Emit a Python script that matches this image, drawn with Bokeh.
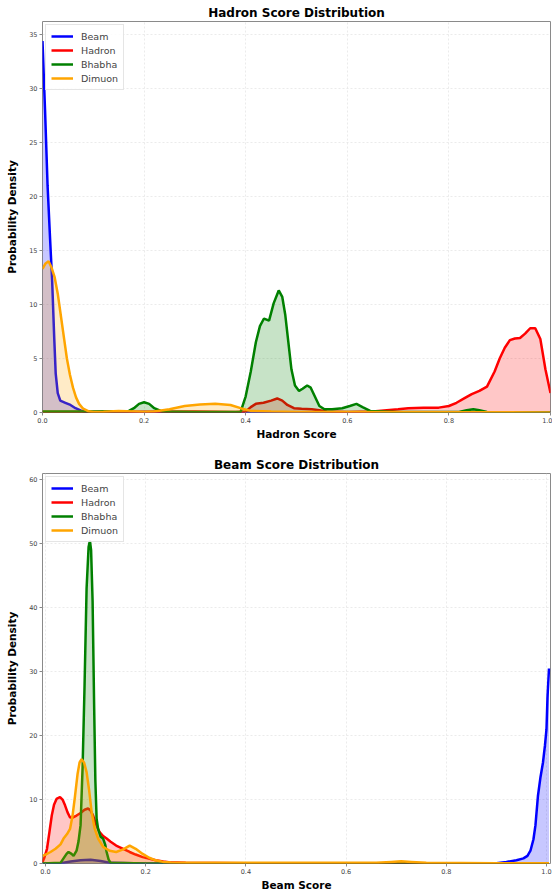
from bokeh.plotting import figure
from bokeh.layouts import column
from bokeh.models import Range1d, Legend, LegendItem, FixedTicker, NumeralTickFormatter
from bokeh.embed import file_html
from bokeh.resources import INLINE

# ---------------- data: Hadron Score panel ----------------
h_beam_x = [0.0, 0.005, 0.010, 0.015, 0.019, 0.023, 0.026, 0.030, 0.035, 0.045, 0.055, 0.065, 0.075, 0.085, 0.10, 0.3, 0.6, 1.0]
h_beam_y = [34.4, 28.0, 21.0, 16.0, 12.2, 7.0, 3.6, 1.8, 1.1, 0.9, 0.7, 0.4, 0.2, 0.05, 0.0, 0.0, 0.0, 0.0]

h_hadron_x = [0.0, 0.1, 0.3, 0.38, 0.40, 0.41, 0.42, 0.435, 0.45, 0.462, 0.472, 0.482, 0.495, 0.51, 0.53, 0.545, 0.56, 0.6,
              0.65, 0.7, 0.72, 0.75, 0.78, 0.8, 0.815, 0.83, 0.845, 0.86, 0.875, 0.89, 0.90, 0.91, 0.92, 0.93, 0.94, 0.95,
              0.96, 0.97, 0.98, 0.99, 1.0]
h_hadron_y = [0.05, 0.05, 0.1, 0.05, 0.1, 0.5, 0.8, 0.9, 1.1, 1.3, 1.1, 0.7, 0.4, 0.35, 0.3, 0.2, 0.1, 0.05,
              0.1, 0.3, 0.4, 0.45, 0.45, 0.6, 0.9, 1.3, 1.7, 2.0, 2.4, 3.8, 5.0, 6.0, 6.7, 6.85, 6.9, 7.3,
              7.8, 7.8, 6.8, 4.0, 1.8]

h_bhabha_x = [0.0, 0.1, 0.17, 0.18, 0.19, 0.2, 0.21, 0.22, 0.235, 0.3, 0.39, 0.40, 0.41, 0.42, 0.428, 0.436, 0.446,
              0.455, 0.465, 0.472, 0.478, 0.484, 0.49, 0.497, 0.505, 0.512, 0.521, 0.528, 0.535, 0.545, 0.555, 0.57,
              0.59, 0.605, 0.618, 0.63, 0.645, 0.7, 0.82, 0.835, 0.848, 0.86, 0.875, 1.0]
h_bhabha_y = [0.1, 0.1, 0.15, 0.4, 0.8, 0.95, 0.8, 0.4, 0.1, 0.05, 0.05, 1.5, 3.8, 6.5, 8.0, 8.7, 8.5,
              10.1, 11.3, 10.7, 9.0, 6.5, 4.0, 2.5, 2.0, 2.2, 2.5, 2.3, 1.6, 0.6, 0.3, 0.3,
              0.4, 0.6, 0.8, 0.5, 0.15, 0.05, 0.05, 0.2, 0.3, 0.2, 0.05, 0.0]

h_dimuon_x = [0.0, 0.006, 0.012, 0.018, 0.024, 0.030, 0.036, 0.042, 0.048, 0.054, 0.060, 0.066, 0.072, 0.080, 0.09,
              0.10, 0.12, 0.15, 0.18, 0.20, 0.22, 0.25, 0.28, 0.31, 0.34, 0.37, 0.39, 0.41, 0.45, 0.5, 0.6, 0.8, 1.0]
h_dimuon_y = [13.3, 13.8, 14.0, 13.4, 12.5, 11.0, 9.0, 7.0, 5.0, 3.5, 2.3, 1.4, 0.8, 0.35, 0.12,
              0.05, 0.08, 0.15, 0.1, 0.05, 0.1, 0.3, 0.6, 0.75, 0.8, 0.7, 0.4, 0.15, 0.1, 0.05, 0.05, 0.03, 0.0]

# ---------------- data: Beam Score panel ----------------
b_beam_x = [-0.006, 0.03, 0.05, 0.07, 0.09, 0.11, 0.13, 0.2, 0.9, 0.92, 0.94, 0.954, 0.962, 0.968, 0.974, 0.978,
            0.983, 0.988, 0.993, 0.997, 1.0, 1.002, 1.005]
b_beam_y = [0.0, 0.05, 0.3, 0.5, 0.6, 0.4, 0.1, 0.0, 0.05, 0.25, 0.5, 0.8, 1.2, 2.0, 3.8, 6.0,
            10.6, 13.5, 15.8, 18.5, 21.0, 26.0, 30.5]

b_hadron_x = [-0.006, -0.002, 0.003, 0.008, 0.0125, 0.017, 0.022, 0.029, 0.034, 0.039, 0.044, 0.049, 0.055, 0.062,
              0.07, 0.078, 0.085, 0.09, 0.095, 0.1, 0.108, 0.115, 0.122, 0.13, 0.141, 0.155, 0.168, 0.18, 0.194,
              0.21, 0.22, 0.235, 0.246, 0.28, 0.4, 0.8, 1.005]
b_hadron_y = [0.2, 1.0, 2.3, 5.0, 7.5, 9.2, 10.1, 10.4, 10.0, 9.1, 8.0, 7.2, 7.2, 7.5,
              7.9, 8.4, 8.6, 8.3, 7.5, 6.3, 4.9, 4.3, 3.9, 3.4, 2.8, 2.3, 1.8, 1.4, 1.0,
              0.7, 0.5, 0.3, 0.2, 0.1, 0.05, 0.05, 0.05]

b_bhabha_x = [-0.006, 0.03, 0.036, 0.042, 0.046, 0.052, 0.056, 0.062, 0.066, 0.07, 0.074, 0.078, 0.082, 0.086,
              0.0886, 0.091, 0.094, 0.097, 0.0995, 0.102, 0.105, 0.11, 0.115, 0.119, 0.122, 0.126, 0.13, 0.2, 1.005]
b_bhabha_y = [0.0, 0.1, 0.8, 1.5, 1.8, 1.5, 1.2, 2.0, 3.5, 6.0, 15.0, 28.0, 43.0, 49.5,
              50.5, 49.0, 41.0, 25.0, 13.0, 7.0, 5.4, 4.2, 3.9, 3.0, 1.8, 0.6, 0.1, 0.0, 0.0]

b_dimuon_x = [-0.006, 0.0, 0.01, 0.02, 0.03, 0.036, 0.043, 0.049, 0.054, 0.059, 0.064, 0.068, 0.072, 0.077, 0.082,
              0.087, 0.092, 0.098, 0.105, 0.115, 0.128, 0.141, 0.155, 0.168, 0.18, 0.194, 0.207, 0.22, 0.235, 0.25,
              0.3, 0.5, 0.66, 0.69, 0.71, 0.73, 0.76, 0.9, 1.005]
b_dimuon_y = [1.2, 1.4, 1.8, 2.3, 3.0, 3.9, 4.6, 5.4, 7.5, 10.6, 14.0, 15.8, 16.3, 15.8, 14.3,
              11.5, 8.1, 5.5, 3.9, 2.6, 2.0, 1.8, 2.2, 2.8, 2.3, 1.5, 0.9, 0.5, 0.25, 0.15,
              0.1, 0.1, 0.1, 0.25, 0.35, 0.25, 0.1, 0.05, 0.05]

labels = ["Beam", "Hadron", "Bhabha", "Dimuon"]
colors = ["#0000ff", "#ff0000", "#008000", "#ffa500"]
x_ticks = [0.0, 0.2, 0.4, 0.6, 0.8, 1.0]
h_y_ticks = [0, 5, 10, 15, 20, 25, 30, 35]
b_y_ticks = [0, 10, 20, 30, 40, 50, 60]

FONT = "DejaVu Sans"


def make_fig(title, xlabel, series, xr, yr, yticks, height, min_top, min_left):
    p = figure(width=552, height=height, x_range=Range1d(*xr), y_range=Range1d(*yr),
               output_backend="svg", toolbar_location=None,
               min_border_left=min_left, min_border_right=2, min_border_top=min_top, min_border_bottom=28)
    p.title.text = title
    p.title.align = "center"
    p.title.text_font = FONT
    p.title.text_font_size = "12px"
    p.title.text_font_style = "bold"
    p.title.text_color = "#000000"
    p.title.standoff = 3

    p.xaxis.axis_label = xlabel
    p.yaxis.axis_label = "Probability Density"
    for ax in (p.xaxis, p.yaxis):
        ax.axis_label_text_font = FONT
        ax.axis_label_text_font_size = "10.5px"
        ax.axis_label_text_font_style = "bold"
        ax.axis_label_text_color = "#000000"
        ax.major_label_text_font = FONT
        ax.major_label_text_font_size = "6.5px"
        ax.major_label_text_color = "#444444"
        ax.major_label_standoff = 2
        ax.major_tick_out = 3
        ax.major_tick_in = 0
        ax.minor_tick_out = 0
        ax.minor_tick_in = 0
        ax.major_tick_line_color = "#888888"
        ax.axis_line_color = None
    p.xaxis.axis_label_standoff = 2
    p.yaxis.axis_label_standoff = 8
    p.xaxis.ticker = FixedTicker(ticks=x_ticks)
    p.xaxis.formatter = NumeralTickFormatter(format="0.0")
    p.yaxis.ticker = FixedTicker(ticks=yticks)

    p.grid.grid_line_color = "#e2e2e2"
    p.grid.grid_line_alpha = 0.7
    p.grid.grid_line_dash = "2 2"
    p.outline_line_color = "#8a8a8a"
    p.outline_line_width = 1

    items = []
    for name, color, xs, ys in series:
        p.varea(x=xs, y1=[0] * len(xs), y2=ys, fill_color=color, fill_alpha=0.22)
        ln = p.line(xs, ys, line_color=color, line_width=2.5)
        items.append(LegendItem(label=name, renderers=[ln]))
    legend = Legend(items=items, location="top_left")
    legend.label_text_font = FONT
    legend.label_text_font_size = "9.5px"
    legend.label_text_color = "#444444"
    legend.glyph_width = 22
    legend.glyph_height = 12
    legend.label_height = 12
    legend.label_standoff = 8
    legend.spacing = 2
    legend.padding = 5
    legend.margin = 3
    legend.border_line_color = "#cccccc"
    legend.background_fill_alpha = 0.85
    p.add_layout(legend)
    return p


p1 = make_fig("Hadron Score Distribution", "Hadron Score",
              list(zip(labels, colors,
                       [h_beam_x, h_hadron_x, h_bhabha_x, h_dimuon_x],
                       [h_beam_y, h_hadron_y, h_bhabha_y, h_dimuon_y])),
              (0.0, 1.0), (0, 36.2), h_y_ticks, 442, 21, 42)
p2 = make_fig("Beam Score Distribution", "Beam Score",
              list(zip(labels, colors,
                       [b_beam_x, b_hadron_x, b_bhabha_x, b_dimuon_x],
                       [b_beam_y, b_hadron_y, b_bhabha_y, b_dimuon_y])),
              (-0.006, 1.008), (0, 61), b_y_ticks, 451, 31, 39)

layout = column(p1, p2, spacing=0)
open("out.html", "w").write(file_html(layout, INLINE))
